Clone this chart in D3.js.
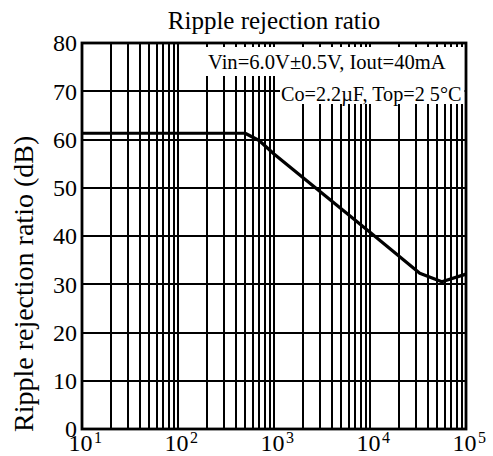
<!DOCTYPE html>
<html><head><meta charset="utf-8">
<script src="https://cdn.jsdelivr.net/npm/d3@7"></script>
<style>body{margin:0;background:#fff}svg{display:block}text{font-family:"Liberation Serif","Times New Roman",serif;fill:#000}</style>
</head><body><div id="chart"></div>
<script>
const freq = [10, 500, 700, 1000, 10000, 33000, 56000, 100000];
const rejection = [61.3, 61.3, 59.8, 57.0, 40.8, 32.3, 30.5, 32.1];
const yTicks = [0, 10, 20, 30, 40, 50, 60, 70, 80];
const xDecades = [1, 2, 3, 4, 5];
const title = "Ripple rejection ratio";
const yLabel = "Ripple rejection ratio (dB)";
const notes = ["Vin=6.0V\u00B10.5V, Iout=40mA", "Co=2.2\u00B5F, Top=2 5\u00B0C"];

const W = 493, H = 456;
const m = {left: 82, right: 27, top: 43, bottom: 27};
const svg = d3.select("#chart").append("svg").attr("width", W).attr("height", H);
const x = d3.scaleLog().domain([10, 1e5]).range([m.left, W - m.right]);
const y = d3.scaleLinear().domain([0, 80]).range([H - m.bottom, m.top]);

const gridX = [];
for (let d = 1; d < 5; d++) for (let k = 1; k <= 9; k++) gridX.push(k * Math.pow(10, d));
gridX.push(1e5);

const g = svg.append("g").attr("shape-rendering", "crispEdges");
g.selectAll(".vg").data(gridX).join("line")
  .attr("x1", d => x(d)).attr("x2", d => x(d))
  .attr("y1", y(0)).attr("y2", y(80))
  .attr("stroke", "#000").attr("stroke-width", 2);
g.selectAll(".hg").data(yTicks).join("line")
  .attr("x1", x(10)).attr("x2", x(1e5))
  .attr("y1", d => y(d)).attr("y2", d => y(d))
  .attr("stroke", "#000").attr("stroke-width", 2);

const notePos = [{x: 200, top: 47, bot: 76, tx: 208, ty: 68.5, fs: 20.6}, {x: 280, top: 76, bot: 104, tx: 281, ty: 100.5, fs: 20.2}];
notes.forEach((t, i) => {
  const p = notePos[i];
  svg.append("rect").attr("x", p.x).attr("y", p.top).attr("width", x(1e5) - 1.5 - p.x).attr("height", p.bot - p.top).attr("fill", "#fff");
  svg.append("text").attr("x", p.tx).attr("y", p.ty).attr("font-size", p.fs).text(t);
});

const line = d3.line().x((d, i) => x(freq[i])).y(d => y(d));
svg.append("path").datum(rejection).attr("d", line)
  .attr("fill", "none").attr("stroke", "#000").attr("stroke-width", 3.2).attr("stroke-linejoin", "round");

svg.append("rect").attr("x", x(10)).attr("y", y(80)).attr("width", x(1e5) - x(10)).attr("height", y(0) - y(80))
  .attr("fill", "none").attr("stroke", "#000").attr("stroke-width", 2.8);

const yAxis = d3.axisLeft(y).tickValues(yTicks).tickSize(0).tickPadding(5);
const ya = svg.append("g").attr("transform", `translate(${m.left},0)`).call(yAxis);
ya.select(".domain").remove();
ya.selectAll("text").attr("font-size", 24).attr("font-family", "Liberation Serif").attr("fill", "#000").attr("dy", "0.33em");

const xl = svg.append("g").selectAll("g").data(xDecades).join("g");
xl.append("text").attr("x", d => x(Math.pow(10, d)) + 10.5).attr("y", 451).attr("text-anchor", "end").attr("font-size", 24).text("10");
xl.append("text").attr("x", d => x(Math.pow(10, d)) + 12).attr("y", 443).attr("font-size", 16).text(d => d);

svg.append("text").attr("x", (x(10) + x(1e5)) / 2).attr("y", 29).attr("text-anchor", "middle").attr("font-size", 25).text(title);
svg.append("text").attr("transform", `translate(33,432) rotate(-90)`).attr("text-anchor", "start").attr("font-size", 28).text(yLabel);
</script></body></html>
